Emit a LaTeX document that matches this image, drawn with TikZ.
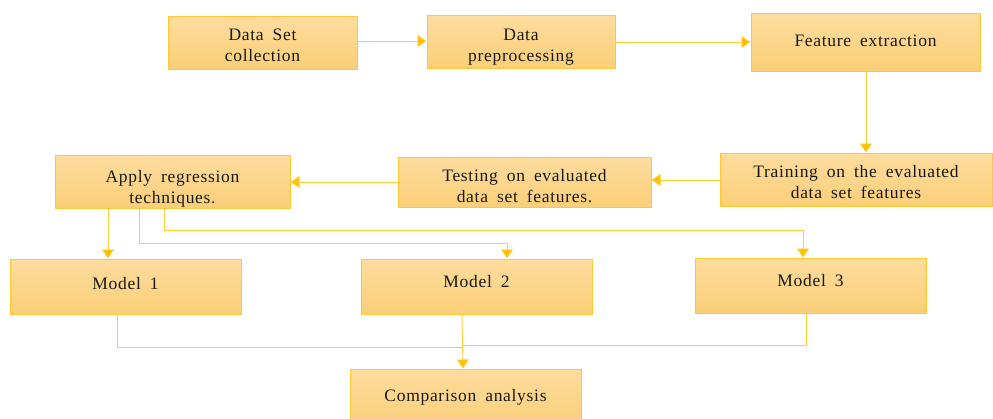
\documentclass[tikz,border=0pt]{standalone}
\usepackage{fontspec}
\setmainfont{Liberation Serif}[LetterSpace=4]
\usetikzlibrary{arrows.meta}
\definecolor{boxtop}{HTML}{FDDC9E}
\definecolor{boxbot}{HTML}{FBCF78}
\definecolor{boxline}{HTML}{FFC832}
\definecolor{linkc}{HTML}{FFC000}
\newcommand{\boxfont}{\fontsize{17.5}{21}\selectfont\spaceskip=9pt plus 2pt\relax}
\tikzset{
  box/.style={draw=boxline, line width=1pt, top color=boxtop, bottom color=boxbot,
    align=center, inner sep=0pt, text=black!90, font=\boxfont},
  link/.style={draw=linkc!80, line width=0.9pt, -{Triangle[width=12pt,length=9pt,fill=linkc]}},
  plain/.style={draw=linkc!80, line width=0.9pt}
}
\newcommand{\boxat}[7]{% name, x1,y1,x2,y2, text, raise
  \pgfmathsetmacro{\bw}{#4-#2}\pgfmathsetmacro{\bh}{#5-#3}%
  \pgfmathsetmacro{\bx}{(#2+#4)/2}\pgfmathsetmacro{\by}{(#3+#5)/2}%
  \node[box, minimum width=\bw pt, minimum height=\bh pt] (#1) at (\bx,\by)
    {\raisebox{#7}[0pt][0pt]{\begin{tabular}{@{}c@{}}#6\end{tabular}}};}
\begin{document}
\begin{tikzpicture}[x=1pt,y=-1pt]
\useasboundingbox (0,0) rectangle (993,418);
\boxat{ds}{168}{16}{357}{69}{Data Set\\collection}{-9pt}
\boxat{dp}{427}{15}{615}{68}{Data\\preprocessing}{-10pt}
\boxat{fe}{751}{13}{980}{71}{Feature extraction}{-4.4pt}
\boxat{tr}{720}{153}{992}{206}{Training on the evaluated\\data set features}{-9pt}
\boxat{te}{398}{157}{651}{207}{Testing on evaluated\\data set features.}{-10.5pt}
\boxat{ap}{55}{155}{290}{208}{Apply regression\\techniques.}{-11.5pt}
\boxat{ma}{10}{259}{241}{314}{Model 1}{-3.4pt}
\boxat{mb}{361}{259}{592}{314}{Model 2}{-1.4pt}
\boxat{mc}{695}{258}{926}{313}{Model 3}{-1.4pt}
\boxat{ca}{350}{369}{581}{429}{Comparison analysis}{-2.4pt}
\coordinate (j) at (463,347);
% top row
\draw[link] (ds.east |- 0,41) -- (dp.west |- 0,41);
\draw[link] (dp.east |- 0,42) -- (fe.west |- 0,42);
\draw[link] (fe.south -| 866,0) -- (tr.north -| 866,0);
\draw[link] (tr.west |- 0,180) -- (te.east |- 0,180);
\draw[link] (te.west |- 0,182) -- (ap.east |- 0,182);
% to models
\draw[link] (ap.south -| 108,0) -- (ma.north -| 108,0);
\draw[link] (ap.south -| 139,0) -- (139,243) -- (507,243) -- (mb.north -| 507,0);
\draw[link] (ap.south -| 164,0) -- (164,230) -- (803,230) -- (mc.north -| 803,0);
% to comparison
\draw[plain] (ma.south -| 117,0) -- (117,347) -- (j);
\draw[plain] (mc.south -| 806,0) -- (806,345) -- (463,345);
\draw[link] (mb.south -| 462,0) -- (ca.north -| 463,0);
\end{tikzpicture}
\end{document}
